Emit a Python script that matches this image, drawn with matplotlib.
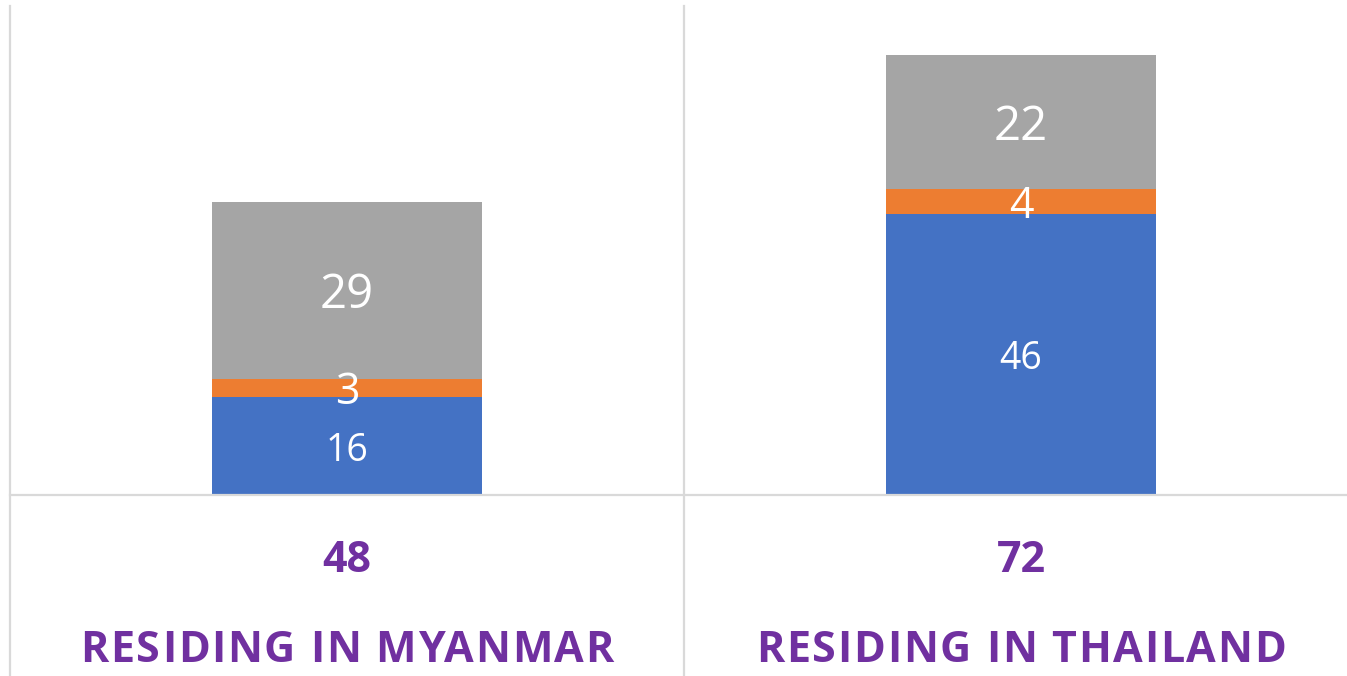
import matplotlib
matplotlib.use("Agg")
import matplotlib.pyplot as plt
import numpy as np

# data
categories = ["RESIDING IN MYANMAR", "RESIDING IN THAILAND"]
blue_vals = [16, 46]
orange_vals = [3, 4]
grey_vals = [29, 22]

plt.rcParams['font.family'] = ['Open Sans', 'DejaVu Sans']

W, H = 1347, 676
fig = plt.figure(figsize=(W / 100, H / 100), dpi=100)
# axes runs a little past the right edge, like the original
left, right, top, base = 10, 1358, 6, 495
ax = fig.add_axes([left / W, (H - base) / H, (right - left) / W, (base - top) / H])
px = (base - top) / 80.0  # pixels per unit

x = np.arange(len(categories))
width = 0.40
series = [
    (blue_vals, '#4472C4', 27),
    (orange_vals, '#ED7D31', 31),
    (grey_vals, '#A5A5A5', 34),
]

bottom = np.zeros(len(categories))
for vals, col, fs in series:
    vals = np.array(vals, dtype=float)
    ax.bar(x, vals, width, bottom=bottom, color=col, edgecolor='none')
    for xi, b, v in zip(x, bottom, vals):
        # nudge down a few px so the digits sit centred like in the original
        ax.text(xi, b + v / 2 - 5 / px, f"{int(v)}", ha='center', va='center',
                color='white', fontsize=fs)
    bottom += vals

ax.set_xlim(-0.5, 1.5)
ax.set_ylim(0, 80)
ax.axis('off')

# grid lines
grey_line = '#D9D9D9'
ax.axhline(0, color=grey_line, lw=1.6, clip_on=False)
below = -(H - base) / (base - top)
for xv in (-0.5, 0.5):
    ax.axvline(xv, ymin=below, ymax=1, color=grey_line, lw=1.6, clip_on=False)

renderer = fig.canvas.get_renderer()


def text_w(s, **kw):
    t = fig.text(0, 0, s, **kw)
    w = t.get_window_extent(renderer).width
    t.remove()
    return w


def spaced_text(xc, yc, s, gap, **kw):
    # letter-spaced text: each character placed by hand in pixel coords
    n = len(s)
    total = text_w(s, **kw) + gap * (n - 1)
    x0 = xc - total / 2
    for i, ch in enumerate(s):
        if ch == ' ':
            continue
        xi = x0 + text_w(s[:i + 1], **kw) - text_w(ch, **kw) + gap * i
        fig.text(xi / W, yc / H, ch, ha='left', va='center', **kw)


purple = '#7030A0'
totals = bottom
for xi, tot, cat in zip(x, totals, categories):
    ax.text(xi, -(561 - base) / px, f"{int(tot)}", ha='center', va='center',
            color=purple, fontsize=31, fontweight='bold', clip_on=False)
    xc = ax.transData.transform((xi, 0))[0]
    spaced_text(xc, H - 651, cat, 1.75, color=purple, fontsize=31, fontweight='bold')

fig.savefig('out.png', dpi=100)
